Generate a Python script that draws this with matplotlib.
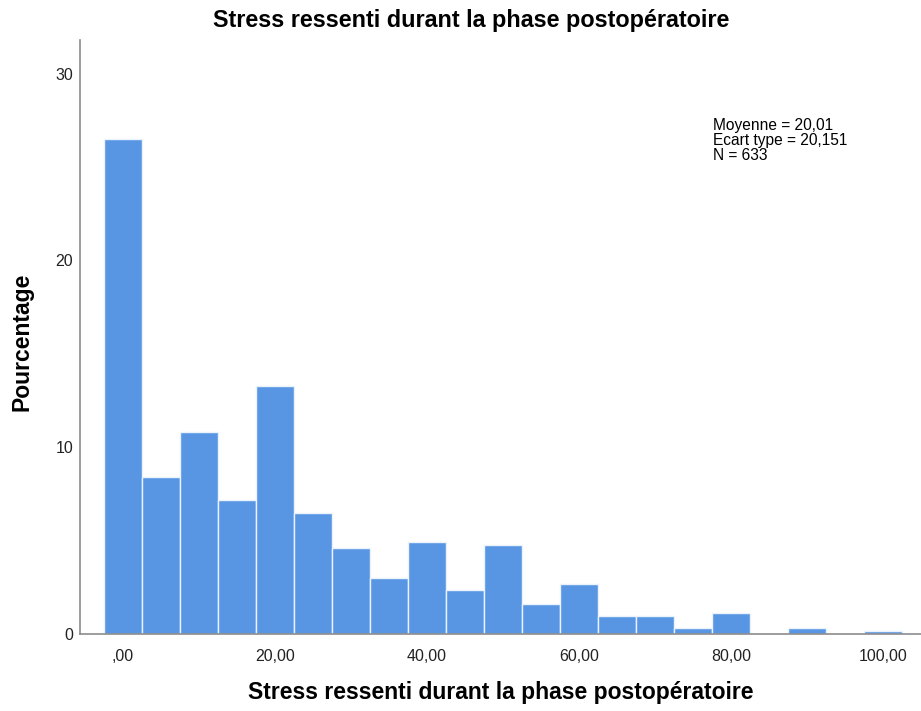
import numpy as np
import matplotlib
matplotlib.use("Agg")
import matplotlib.pyplot as plt

plt.rcParams['font.family'] = ['Liberation Sans', 'DejaVu Sans']

# --- data ---
bin_centers = [0, 5, 10, 15, 20, 25, 30, 35, 40, 45, 50,
               55, 60, 65, 70, 75, 80, 85, 90, 95, 100]
percentages = [26.5, 8.4, 10.8, 7.15, 13.3, 6.5, 4.6, 3.0, 4.9, 2.37, 4.76,
               1.58, 2.69, 0.95, 0.95, 0.32, 1.11, 0.0, 0.32, 0.0, 0.16]
bin_width = 5
x_ticks = [0, 20, 40, 60, 80, 100]
x_tick_labels = [",00", "20,00", "40,00", "60,00", "80,00", "100,00"]
y_ticks = [0, 10, 20, 30]
stats_lines = ["Moyenne = 20,01", "Ecart type = 20,151", "N = 633"]

title = "Stress ressenti durant la phase postopératoire"
bar_color = "#5896E4"

fig = plt.figure(figsize=(9.21, 7.11), dpi=100)
ax = fig.add_axes([80 / 921, 77 / 711, 841 / 921, 594 / 711])

ax.bar(bin_centers, percentages, width=bin_width, color=bar_color,
       edgecolor="#EAF2FC", linewidth=1.0, align="center", zorder=2)

ax.set_xlim(-5.66, 105)
ax.set_ylim(0, 31.8)

for side in ["top", "right"]:
    ax.spines[side].set_visible(False)
for side in ["left", "bottom"]:
    ax.spines[side].set_color("#8C8C8C")
    ax.spines[side].set_linewidth(1.2)

ax.set_xticks(x_ticks)
ax.set_xticklabels(x_tick_labels)
ax.set_yticks(y_ticks)
ax.tick_params(axis="both", length=0, labelsize=11.5, colors="#222222")
ax.tick_params(axis="x", pad=11)
ax.tick_params(axis="y", pad=5)

ax.set_xlabel("Stress ressenti durant la phase postopératoire",
              fontsize=16.5, fontweight="bold")
ax.xaxis.set_label_coords(0.5, (634 - 692) / 594)
ax.xaxis.label.set_va("center")
ax.set_ylabel("Pourcentage", fontsize=16.5, fontweight="bold")
ax.yaxis.set_label_coords((22 - 80) / 841, 0.5 - 5 / 594)
ax.yaxis.label.set_va("center")

fig.text(471 / 921, 1 - 21 / 711, title, ha="center", va="center",
         fontsize=16.8, fontweight="bold")

fig.text(713 / 921, 1 - 118 / 711, "\n".join(stats_lines), ha="left", va="top",
         fontsize=11.2, linespacing=1.0)

fig.savefig("out.png", dpi=100)
